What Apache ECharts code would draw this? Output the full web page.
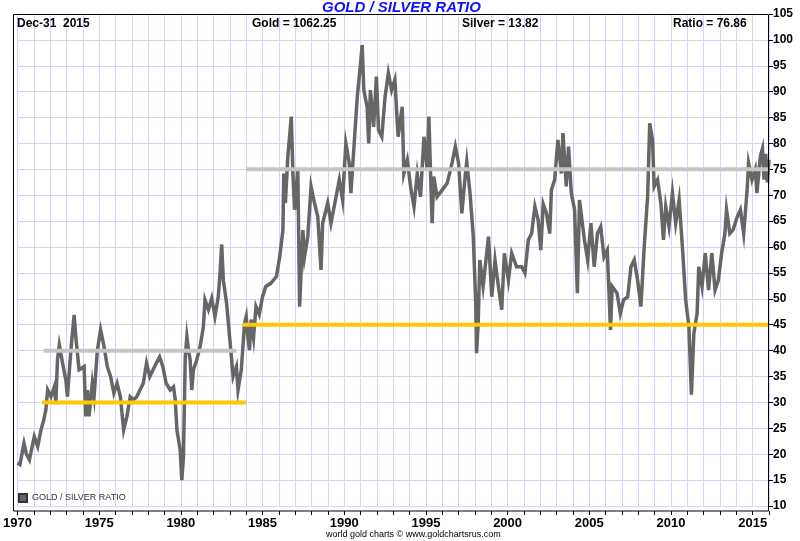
<!DOCTYPE html>
<html>
<head>
<meta charset="utf-8">
<script src="https://cdn.jsdelivr.net/npm/echarts@6/dist/echarts.min.js"></script>
<style>html,body{margin:0;padding:0;background:#fff;}#c{width:800px;height:541px;}</style>
</head>
<body>
<div id="c"></div>
<script>
var seriesName = 'GOLD / SILVER RATIO';
var ratioYears = [1970.00,1970.15,1970.40,1970.55,1970.73,1971.03,1971.24,1971.44,1971.60,1971.74,1971.85,1972.05,1972.25,1972.35,1972.45,1972.56,1972.76,1972.96,1973.06,1973.27,1973.47,1973.57,1973.77,1974.08,1974.18,1974.28,1974.38,1974.58,1974.69,1974.89,1975.09,1975.30,1975.50,1975.70,1975.90,1976.10,1976.30,1976.50,1976.70,1976.90,1977.10,1977.30,1977.50,1977.70,1977.90,1978.10,1978.30,1978.50,1978.70,1978.90,1979.10,1979.35,1979.55,1979.66,1979.76,1979.86,1979.96,1980.06,1980.16,1980.27,1980.37,1980.47,1980.57,1980.67,1980.77,1980.97,1981.18,1981.38,1981.48,1981.69,1981.89,1982.09,1982.29,1982.40,1982.50,1982.60,1982.80,1983.00,1983.20,1983.40,1983.50,1983.70,1983.90,1984.00,1984.10,1984.20,1984.30,1984.45,1984.60,1984.80,1985.00,1985.20,1985.50,1985.85,1986.05,1986.25,1986.30,1986.40,1986.55,1986.76,1986.86,1986.96,1987.16,1987.27,1987.47,1987.57,1987.77,1987.97,1988.18,1988.38,1988.58,1988.68,1988.99,1989.19,1989.50,1989.70,1989.90,1990.10,1990.31,1990.41,1990.61,1990.80,1991.00,1991.10,1991.20,1991.40,1991.50,1991.60,1991.80,1991.97,1992.10,1992.30,1992.50,1992.70,1992.90,1993.10,1993.30,1993.55,1993.65,1993.86,1994.06,1994.27,1994.47,1994.67,1994.88,1995.08,1995.18,1995.38,1995.48,1995.68,1995.99,1996.30,1996.60,1996.80,1997.00,1997.20,1997.40,1997.50,1997.70,1997.90,1998.05,1998.10,1998.20,1998.30,1998.50,1998.83,1999.03,1999.23,1999.44,1999.64,1999.80,2000.05,2000.25,2000.55,2000.86,2001.06,2001.27,2001.47,2001.67,2001.87,2002.03,2002.18,2002.38,2002.58,2002.68,2002.88,2003.08,2003.29,2003.39,2003.59,2003.73,2003.90,2004.10,2004.27,2004.40,2004.70,2004.90,2005.10,2005.30,2005.50,2005.70,2005.90,2006.10,2006.30,2006.40,2006.70,2006.90,2007.10,2007.35,2007.55,2007.75,2007.96,2008.16,2008.36,2008.57,2008.70,2008.87,2008.97,2009.18,2009.38,2009.54,2009.68,2009.88,2010.09,2010.29,2010.50,2010.70,2010.90,2011.10,2011.25,2011.40,2011.60,2011.70,2011.90,2012.10,2012.30,2012.50,2012.70,2012.90,2013.10,2013.30,2013.40,2013.60,2013.80,2014.05,2014.25,2014.45,2014.66,2014.75,2014.96,2015.16,2015.26,2015.47,2015.60,2015.70,2015.80,2015.90,2016.00];
var ratioValues = [18.3,18.0,22.1,20.0,18.9,23.4,21.5,24.7,26.5,28.6,32.4,31.1,33.0,30.0,38.2,41.1,37.6,34.3,31.1,40.1,46.9,42.7,36.3,36.9,27.3,32.4,27.3,33.7,31.1,40.1,44.0,40.8,36.9,35.0,31.8,33.7,31.1,24.7,27.3,31.1,30.5,31.1,32.4,33.7,37.6,35.0,36.3,37.6,38.8,36.9,33.7,32.4,33.0,30.5,24.7,22.8,20.8,15.0,19.5,38.8,42.7,40.1,38.2,32.4,36.3,38.2,40.8,44.6,49.8,47.9,50.1,46.6,50.4,55.0,60.5,53.6,49.2,42.1,35.0,36.9,32.4,36.3,45.3,46.6,42.7,40.1,46.0,42.5,48.5,47.0,50.4,52.4,53.0,54.3,58.1,63.3,74.2,68.5,77.5,85.2,74.2,67.2,74.9,48.5,63.3,58.1,62.0,71.7,68.5,65.9,55.6,64.6,68.5,64.6,69.7,73.0,69.1,80.0,76.2,70.4,80.0,89.0,95.5,99.0,90.3,87.1,80.0,90.3,83.2,92.9,82.6,81.3,89.0,93.6,90.3,92.3,81.3,87.1,74.2,76.8,71.7,67.8,74.2,69.7,81.3,74.9,85.2,64.6,73.6,69.7,71.0,72.3,76.2,79.4,76.2,66.5,73.6,76.5,70.4,62.0,49.2,39.5,45.3,57.5,52.4,62.0,50.4,57.5,52.4,47.9,58.8,53.6,58.8,56.2,56.2,55.0,61.4,62.6,67.8,65.2,59.4,68.3,66.5,62.6,71.0,73.0,80.7,74.2,82.0,71.7,79.4,70.4,67.2,51.1,69.1,61.4,57.5,64.6,56.2,62.6,63.9,58.1,59.4,44.0,52.4,51.1,47.2,49.8,50.4,56.2,57.5,53.6,48.5,60.0,69.7,83.9,80.7,71.7,73.0,68.5,61.4,67.8,64.0,70.4,64.6,69.1,60.0,49.8,44.6,31.5,43.3,47.2,56.2,52.4,58.8,51.7,58.8,51.7,53.6,58.8,62.6,67.2,62.6,63.3,65.8,67.2,62.6,71.0,76.2,73.0,75.0,70.4,77.5,79.0,73.0,78.0,72.5,76.86];

// reference levels: [startYear, endYear, value]
var grayLow = [1971.6, 1983.4, 40];
var yellowLow = [1971.5, 1984.0, 30];
var grayHigh = [1984.0, 2016.0, 75];
var yellowHigh = [1983.8, 2016.0, 45];

var headerTexts = ['Dec-31  2015', 'Gold = 1062.25', 'Silver = 13.82', 'Ratio = 76.86'];
var titleText = 'GOLD / SILVER RATIO';
var footerText = 'world gold charts \u00a9 www.goldchartsrus.com';

var xMin = 1970, xMax = 2016, yMin = 10, yMax = 105, yStep = 5;

function pairs(xs, ys) { return xs.map(function (x, i) { return [x, ys[i]]; }); }
function level(l) { return [[l[0], l[2]], [l[1], l[2]]]; }

var FONT = '"Liberation Sans", Arial, Helvetica, sans-serif';
var chart = echarts.init(document.getElementById('c'), null, { renderer: 'canvas' });

function levelSeries(name, l, color) {
  return {
    name: name, type: 'line', data: level(l), symbol: 'none', silent: true,
    lineStyle: { color: color, width: 4 }, z: 5, animation: false
  };
}

chart.setOption({
  animation: false,
  backgroundColor: '#ffffff',
  grid: { left: 13, right: 31, top: 14, bottom: 35, show: false },
  legend: {
    data: [seriesName], left: 18, top: 493, icon: 'rect', itemWidth: 8, itemHeight: 8, itemGap: 4,
    textStyle: { fontFamily: FONT, fontSize: 9, color: '#333' }, padding: 0, selectedMode: false
  },
  xAxis: {
    type: 'value', min: xMin, max: xMax, interval: 1, offset: 5,
    axisLine: { show: false },
    axisTick: { show: true, length: 4, lineStyle: { color: '#000' } },
    axisLabel: {
      fontFamily: FONT, fontWeight: 'bold', fontSize: 13, color: '#000', margin: 6,
      formatter: function (v) { return (v % 5 === 0 && v < 2016) ? String(v) : ''; }
    },
    splitLine: { show: true, lineStyle: { color: '#d4d4fb', width: 1 } }
  },
  yAxis: {
    type: 'value', position: 'right', min: yMin, max: yMax, interval: yStep,
    axisLine: { show: false },
    axisTick: { show: true, length: 4, lineStyle: { color: '#000' } },
    axisLabel: { fontFamily: FONT, fontWeight: 'bold', fontSize: 12, color: '#000', margin: 4 },
    splitLine: { show: true, lineStyle: { color: '#d4d4fb', width: 1 } }
  },
  series: [
    {
      name: seriesName, type: 'line', data: pairs(ratioYears, ratioValues), symbol: 'none',
      lineStyle: { color: '#666666', width: 3.5, join: 'miter' }, itemStyle: { color: '#666666', borderColor: '#333', borderWidth: 1 },
      z: 3
    },
    levelSeries('g1', grayLow, '#c4c4c4'),
    levelSeries('y1', yellowLow, '#ffc800'),
    levelSeries('g2', grayHigh, '#c4c4c4'),
    levelSeries('y2', yellowHigh, '#ffc800')
  ],
  graphic: [
    { type: 'rect', shape: { x: 13.5, y: 14.5, width: 755, height: 496.5 }, style: { fill: null, stroke: '#000', lineWidth: 1 }, z: 10, silent: true },
    { type: 'text', left: 322, top: 0, style: { text: titleText, fill: '#1010ff', font: 'italic bold 15px ' + FONT }, z: 11 },
    { type: 'text', left: 17, top: 18, style: { text: headerTexts[0], fill: '#000', font: 'bold 12px ' + FONT }, z: 11 },
    { type: 'text', left: 252, top: 18, style: { text: headerTexts[1], fill: '#000', font: 'bold 12px ' + FONT }, z: 11 },
    { type: 'text', left: 462, top: 18, style: { text: headerTexts[2], fill: '#000', font: 'bold 12px ' + FONT }, z: 11 },
    { type: 'text', left: 673, top: 18, style: { text: headerTexts[3], fill: '#000', font: 'bold 12px ' + FONT }, z: 11 },
    { type: 'text', left: 326, top: 530, style: { text: footerText, fill: '#000', font: '9px ' + FONT }, z: 11 }
  ]
});
</script>
</body>
</html>
